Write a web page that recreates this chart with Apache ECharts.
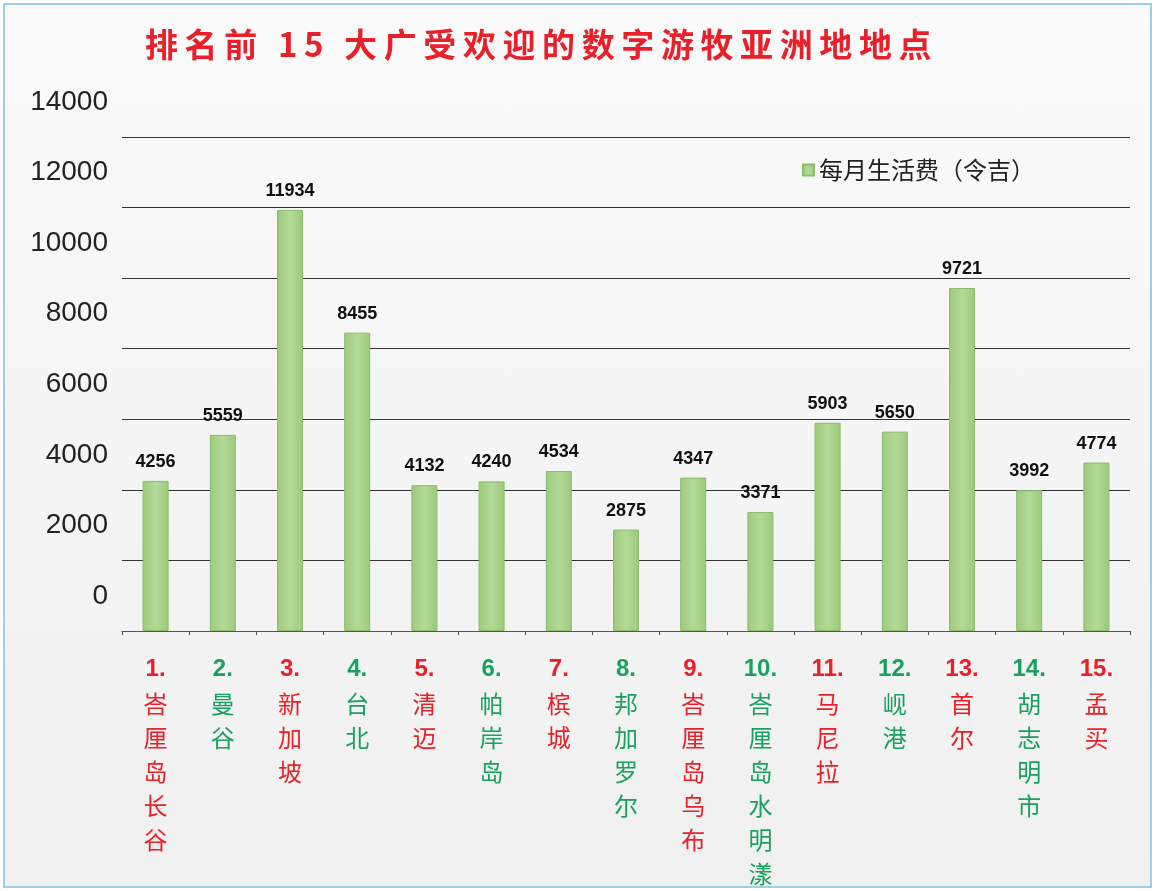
<!DOCTYPE html>
<html><head><meta charset="utf-8">
<script src="https://cdn.jsdelivr.net/npm/echarts@6/dist/echarts.min.js"></script>
<style>html,body{margin:0;padding:0;background:#fff}
#c{position:absolute;left:3px;top:3px;width:1145px;height:881px;border:2px solid #9dd0e8;background:linear-gradient(#fafafa,#f0f0f0);}</style>
</head><body><div id="c"></div>
<script>
const categories=["峇厘岛长谷","曼谷","新加坡","台北","清迈","帕岸岛","槟城","邦加罗尔","峇厘岛乌布","峇厘岛水明漾","马尼拉","岘港","首尔","胡志明市","孟买"];
const values=[4256,5559,11934,8455,4132,4240,4534,2875,4347,3371,5903,5650,9721,3992,4774];
const yTicks=[0,2000,4000,6000,8000,10000,12000,14000];
const titleText='排名前 15 大广受欢迎的数字游牧亚洲地地点';
const chart=echarts.init(document.getElementById('c'));
chart.setOption({
 title:{text:titleText.split('').join('\u2009'),left:135,top:18,textStyle:{color:'#e8202a',fontSize:33,fontWeight:'bold',fontFamily:'Noto Sans CJK SC'}},
 legend:{right:110,top:148,itemWidth:11,itemHeight:11,icon:'rect',textStyle:{fontSize:24,color:'#222',fontFamily:'Noto Sans CJK SC'},data:['每月生活费（令吉）']},
 grid:{left:117,right:20,top:132,bottom:254},
 xAxis:{type:'category',data:categories,axisTick:{show:true,length:4,lineStyle:{color:'#555'}},axisLine:{lineStyle:{color:'#555'}},
  axisLabel:{interval:0,margin:20,verticalAlign:'top',
   formatter:(v,i)=>{const s=(i%2===0)?'r':'g';return '{'+s+'b|'+(i+1)+'.}\n'+v.split('').map(ch=>'{'+s+'|'+ch+'}').join('\n');},
   rich:{r:{color:'#e8202a',fontSize:24,lineHeight:34,fontFamily:'Noto Sans CJK SC'},g:{color:'#1aa060',fontSize:24,lineHeight:34,fontFamily:'Noto Sans CJK SC'},
    rb:{color:'#e8202a',fontSize:24,fontWeight:'bold',lineHeight:36,fontFamily:'Liberation Sans'},gb:{color:'#1aa060',fontSize:24,fontWeight:'bold',lineHeight:36,fontFamily:'Liberation Sans'}}}},
 yAxis:{type:'value',min:0,max:14000,interval:2000,splitLine:{lineStyle:{color:'#333'}},axisLine:{show:false},axisTick:{show:false},
  axisLabel:{margin:14,formatter:v=>yTicks.includes(v)?'{a|'+v+'}':'',
   rich:{a:{fontSize:28,color:'#222',fontFamily:'Liberation Sans',padding:[0,0,70,0]}}}},
 series:[{name:'每月生活费（令吉）',type:'bar',data:values,barWidth:26,
  itemStyle:{color:new echarts.graphic.LinearGradient(0,0,1,0,[{offset:0,color:'#9cc97c'},{offset:0.5,color:'#b4da98'},{offset:1,color:'#9cc97c'}]),borderColor:'#8bbb6b',borderWidth:1},
  label:{show:true,position:'top',distance:10,fontSize:18,fontWeight:'bold',color:'#111',fontFamily:'Liberation Sans'}}]
});
</script></body></html>
